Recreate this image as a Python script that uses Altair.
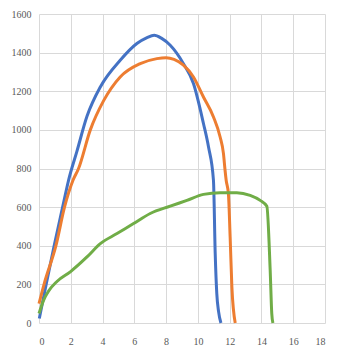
import altair as alt
import pandas as pd

blue_x = [0.02, 0.46, 0.96, 1.49, 1.86, 2.39, 3.02, 3.86, 5.11, 6.16, 6.8, 7.25, 7.7, 8.26, 9.09, 9.72, 10.35, 10.67, 10.98, 11.09, 11.19, 11.3, 11.45]
blue_y = [23, 204, 402, 601, 739, 890, 1070, 1222, 1360, 1447, 1478, 1490, 1475, 1438, 1343, 1240, 1033, 911, 739, 359, 152, 60, 0]

orange_x = [0, 0.33, 1.07, 1.61, 2.14, 2.49, 3.23, 4.06, 5.11, 6.37, 7.42, 8.0, 8.5, 9.09, 9.72, 10.35, 10.98, 11.4, 11.61, 11.71, 11.78, 11.92, 12.03, 12.14, 12.35]
orange_y = [100, 204, 402, 601, 739, 800, 1000, 1150, 1274, 1343, 1369, 1374, 1365, 1335, 1274, 1170, 1067, 963, 877, 791, 739, 670, 445, 186, 0]

green_x = [0, 0.3, 0.6, 1.13, 1.97, 3.02, 3.86, 4.91, 5.95, 7.0, 8.26, 9.31, 10.35, 11.4, 12.45, 13.29, 13.92, 14.34, 14.55, 14.65, 14.72]
green_y = [49, 120, 165, 215, 265, 342, 411, 463, 515, 567, 605, 635, 666, 675, 675, 661, 635, 604, 273, 49, 0]

series_names = ["Blue", "Orange", "Green"]
colors = ["#4472C4", "#ED7D31", "#70AD47"]

rows = []
for name, xs, ys in zip(series_names, [blue_x, orange_x, green_x], [blue_y, orange_y, green_y]):
    for i, (xv, yv) in enumerate(zip(xs, ys)):
        rows.append({"series": name, "x": xv, "y": yv, "i": i})
df = pd.DataFrame(rows)

font = "Liberation Sans Narrow"

chart = alt.Chart(df).mark_line(strokeWidth=3, interpolate="monotone").encode(
    x=alt.X("x:Q", scale=alt.Scale(domain=[0, 18], nice=False),
            axis=alt.Axis(values=list(range(0, 19, 2)), format="d", title=None, domain=False, ticks=False,
                          labelPadding=13, gridColor="#d9d9d9", labelColor="#595959",
                          labelFontSize=10, labelFont=font)),
    y=alt.Y("y:Q", scale=alt.Scale(domain=[0, 1600], nice=False),
            axis=alt.Axis(values=list(range(0, 1601, 200)), format="d", title=None, domain=False, ticks=False,
                          labelPadding=8, gridColor="#d9d9d9", labelColor="#595959",
                          labelFontSize=10, labelFont=font)),
    color=alt.Color("series:N", scale=alt.Scale(domain=series_names, range=colors), legend=None),
    order="i:Q",
).properties(
    width=286, height=309,
    autosize=alt.AutoSizeParams(type="none"),
    padding={"left": 31, "top": 6, "right": 5, "bottom": 28},
).configure_view(stroke=None)

chart.save("out.html", embed_options={"renderer": "svg", "actions": False})
